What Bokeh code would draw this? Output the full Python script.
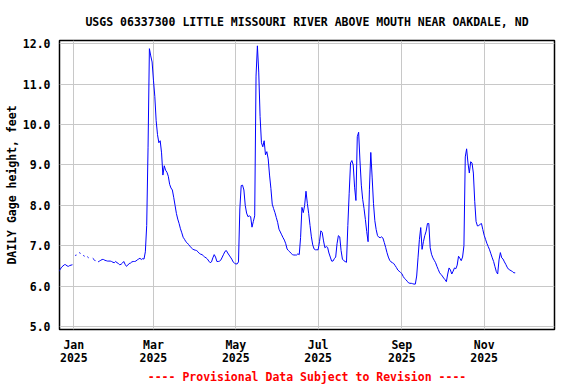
import numpy as np
import pandas as pd
from bokeh.plotting import figure
from bokeh.models import Range1d, FixedTicker, Title
from bokeh.embed import file_html
from bokeh.resources import INLINE

title_text = "USGS 06337300 LITTLE MISSOURI RIVER ABOVE MOUTH NEAR OAKDALE, ND"
y_label = "DAILY Gage height, feet"
footer_text = "---- Provisional Data Subject to Revision ----"

start_date = "2024-12-21"
nan = float("nan")
gage_dec = [6.36, 6.42, 6.47, 6.50, 6.53, 6.53, 6.50, 6.49, 6.51, 6.52, 6.53]
gage_jan = [nan, 6.76, 6.77, nan, 6.83, 6.81, nan, 6.76, 6.74, nan, 6.73, 6.70,
            nan, nan, 6.69, 6.66, 6.62, nan]
gage_feb = [6.60, 6.62, 6.64, 6.66, 6.66, 6.64, 6.63, 6.62, 6.62, 6.62, 6.61, 6.59,
            6.58, 6.61, 6.58, 6.56, 6.53, 6.54, 6.57, 6.61, 6.54, 6.49, 6.52, 6.56,
            6.57, 6.60, 6.61, 6.61, 6.62, 6.65, 6.67, 6.69, 6.66, 6.68, 6.67, 6.85]
gage_spring = [7.50, 9.44, 11.88, 11.70, 11.55, 11.10, 10.70, 10.10, 9.75, 9.55,
               9.60, 9.30, 8.75, 8.98, 8.87, 8.82, 8.72, 8.52, 8.43, 8.38, 8.20,
               8.00, 7.80, 7.66, 7.55, 7.42, 7.32, 7.21, 7.16, 7.10, 7.07, 7.03,
               6.99, 6.95, 6.92, 6.90, 6.89, 6.88, 6.85, 6.81, 6.79, 6.78, 6.75,
               6.72, 6.70, 6.67, 6.62, 6.58, 6.60, 6.70, 6.78, 6.72, 6.61, 6.61,
               6.62, 6.65, 6.72, 6.79, 6.86, 6.88, 6.82, 6.77, 6.72, 6.67, 6.60,
               6.57, 6.55, 6.55, 6.60]
gage_summer = [7.91, 8.49, 8.50, 8.38, 8.00, 7.81, 7.72, 7.74, 7.72, 7.46, 7.60,
               7.74, 11.20, 11.95, 11.30, 10.20, 9.55, 9.45, 9.60, 9.25, 9.33,
               9.15, 8.75, 8.42, 8.03, 7.92, 7.82, 7.70, 7.58, 7.41, 7.34, 7.27,
               7.20, 7.14, 7.05, 6.92, 6.88, 6.85, 6.81, 6.78, 6.77, 6.77, 6.77,
               6.80, 6.78, 7.20, 7.95, 7.82, 8.00, 8.35, 8.05, 7.80, 7.50, 7.22,
               7.02, 6.92, 6.90, 6.90, 6.90, 7.10, 7.37, 7.33, 7.12, 6.95, 6.98,
               6.96, 6.82, 6.72, 6.62, 6.62, 6.68, 6.72, 7.05, 7.25, 7.22, 6.88,
               6.67, 6.63, 6.61, 6.59, 7.50, 8.30, 9.05, 9.11, 9.00, 8.45, 8.12,
               9.70, 9.81, 9.10, 8.50, 8.15, 7.92, 7.65, 7.35, 7.10, 8.40, 9.31,
               8.70, 8.05, 7.62, 7.40, 7.25, 7.21, 7.20, 7.22, 7.19, 7.08, 6.96,
               6.83, 6.72, 6.64, 6.60, 6.58, 6.56, 6.51, 6.46, 6.40, 6.37, 6.34,
               6.31, 6.24, 6.19, 6.16, 6.12, 6.08, 6.07, 6.07, 6.06, 6.05, 6.05]
gage_fall = [6.25, 6.70, 7.15, 7.45, 6.91, 7.10, 7.25, 7.36, 7.55, 7.55, 6.95,
             6.79, 6.70, 6.64, 6.58, 6.49, 6.41, 6.33, 6.29, 6.25, 6.20, 6.16,
             6.11, 6.30, 6.45, 6.40, 6.30, 6.37, 6.45, 6.43, 6.52, 6.74, 6.69,
             6.63, 6.72, 7.00, 9.20, 9.40, 9.05, 8.80, 9.08, 9.05, 8.80, 8.10,
             7.60, 7.49, 7.50, 7.53, 7.55, 7.40, 7.26, 7.16, 7.06, 6.98, 6.90,
             6.80, 6.70, 6.61, 6.48, 6.36, 6.30, 6.65, 6.83, 6.70, 6.67, 6.60,
             6.54, 6.47, 6.42, 6.40, 6.38, 6.36, 6.33, 6.33]

tick_dates = ["2025-01-01", "2025-03-01", "2025-05-01", "2025-07-01", "2025-09-01", "2025-11-01"]
tick_labels = ["Jan\n2025", "Mar\n2025", "May\n2025", "Jul\n2025", "Sep\n2025", "Nov\n2025"]
y_ticks = [5.0, 6.0, 7.0, 8.0, 9.0, 10.0, 11.0, 12.0]

values = gage_dec + gage_jan + gage_feb + gage_spring + gage_summer + gage_fall
dates = pd.date_range(start_date, periods=len(values), freq="D")

x_start = pd.Timestamp("2025-01-01") - pd.Timedelta(days=10.6)
x_end = pd.Timestamp("2025-01-01") + pd.Timedelta(days=356.1)

FONT = "DejaVu Sans Mono"
FS = "11.5px"

p = figure(width=576, height=384, x_axis_type="datetime",
           x_range=Range1d(x_start, x_end), y_range=Range1d(4.926, 12.082),
           output_backend="svg", toolbar_location=None,
           min_border_left=59, min_border_right=22, min_border_top=40, min_border_bottom=55)
p.background_fill_color = "white"
p.border_fill_color = "white"
p.outline_line_color = "black"
p.outline_line_width = 1.5

p.line(dates, values, line_color="#0000ff", line_width=1)

ms = [int(pd.Timestamp(d).value // 10**6) for d in tick_dates]
p.xaxis.ticker = FixedTicker(ticks=ms)
p.xaxis.major_label_overrides = {m: lab for m, lab in zip(ms, tick_labels)}
p.yaxis.ticker = FixedTicker(ticks=y_ticks)
p.yaxis.major_label_overrides = {t: f"{t:.1f}" for t in y_ticks}

for ax in (p.xaxis[0], p.yaxis[0]):
    ax.axis_line_color = None
    ax.major_tick_line_color = None
    ax.minor_tick_line_color = None
    ax.major_tick_out = 0
    ax.major_tick_in = 0
    ax.major_label_text_font = FONT
    ax.major_label_text_font_size = FS
    ax.major_label_text_font_style = "bold"
    ax.major_label_text_color = "black"
p.xaxis.major_label_standoff = 8
p.xaxis.major_label_text_line_height = 0.95
p.yaxis.major_label_standoff = 9

p.yaxis.axis_label = y_label
p.yaxis.axis_label_standoff = 1
p.yaxis.axis_label_text_font = FONT
p.yaxis.axis_label_text_font_size = FS
p.yaxis.axis_label_text_font_style = "bold"
p.yaxis.axis_label_text_color = "black"

p.xgrid.grid_line_color = "#c8c8c8"
p.ygrid.grid_line_color = "#c8c8c8"
p.xgrid.grid_line_width = 1
p.ygrid.grid_line_width = 1

p.title.text = title_text
p.title.align = "center"
p.title.text_font = FONT
p.title.text_font_size = FS
p.title.text_font_style = "bold"
p.title.text_color = "black"
p.title.standoff = 23

p.add_layout(Title(text=footer_text, align="center", text_font=FONT, text_font_size=FS,
                   text_font_style="bold", text_color="#ff0000", standoff=0), "below")

open("out.html", "w").write(file_html(p, INLINE))
